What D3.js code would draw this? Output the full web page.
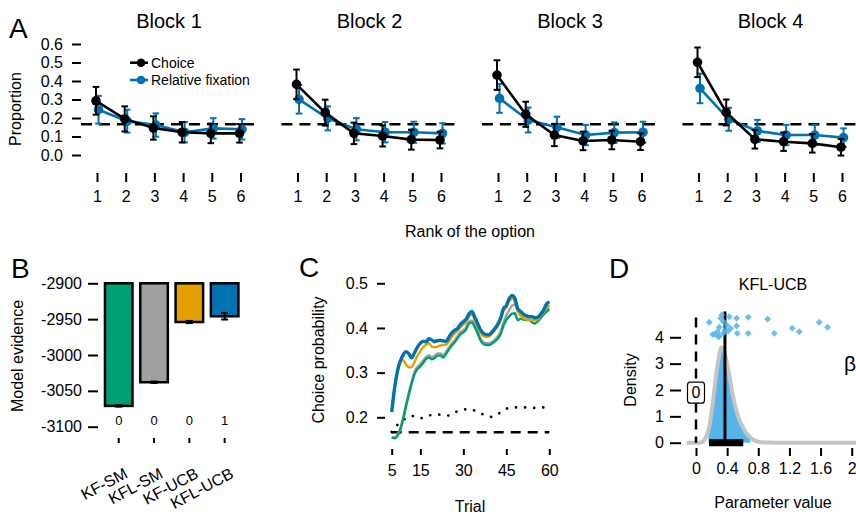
<!DOCTYPE html>
<html><head><meta charset="utf-8">
<script src="https://cdn.jsdelivr.net/npm/d3@7"></script>
<style>
body{margin:0;background:#fff}
svg text{font-family:"Liberation Sans",Arial,Helvetica,sans-serif;fill:#000}
</style></head><body>
<svg id="chart" width="856" height="515"></svg>
<script>
// ---------------- Panel A data ----------------
const ranks = [1,2,3,4,5,6];
const blockNames = ["Block 1","Block 2","Block 3","Block 4"];
const choiceMean = [
 [0.293,0.195,0.146,0.123,0.117,0.117],
 [0.382,0.229,0.117,0.103,0.083,0.081],
 [0.432,0.220,0.108,0.076,0.081,0.072],
 [0.501,0.230,0.085,0.072,0.063,0.042]];
const choiceErr = [
 [0.075,0.068,0.063,0.055,0.053,0.050],
 [0.080,0.070,0.058,0.057,0.054,0.045],
 [0.080,0.068,0.060,0.050,0.050,0.045],
 [0.080,0.070,0.050,0.050,0.050,0.045]];
const fixMean = [
 [0.245,0.183,0.162,0.123,0.144,0.139],
 [0.301,0.198,0.139,0.123,0.123,0.117],
 [0.306,0.189,0.150,0.108,0.121,0.123],
 [0.360,0.193,0.130,0.108,0.108,0.094]];
const fixErr = [
 [0.075,0.062,0.063,0.055,0.055,0.055],
 [0.077,0.065,0.060,0.055,0.057,0.055],
 [0.078,0.067,0.057,0.055,0.055,0.057],
 [0.080,0.062,0.060,0.055,0.055,0.050]];
const chanceLevel = 1/6;
const yTicksA = [0,0.1,0.2,0.3,0.4,0.5,0.6];
const legendA = ["Choice","Relative fixation"];

// ---------------- Panel B data ----------------
const models = ["KF-SM","KFL-SM","KF-UCB","KFL-UCB"];
const evidence = [-3071,-3038,-2954,-2946];
const evidenceErr = [1,1,1.5,4.5];
const bestFitCounts = ["0","0","0","1"];
const modelColors = ["#009E73","#A0A0A0","#E69F00","#0072B2"];
const yTicksB = [-3100,-3050,-3000,-2950,-2900];

// ---------------- Panel C data ----------------
const trials = [5,6,7,8,9,10,11,12,13,14,15,16,17,18,19,20,21,22,23,24,25,26,27,28,29,30,31,32,
 33,34,35,36,37,38,39,40,41,42,43,44,45,46,47,48,49,50,51,52,53,54,55,56,57,58,59,60];
const probKFSM = [0.155,0.153,0.158,0.172,0.195,0.224,0.251,0.276,0.297,0.308,0.314,0.322,0.330,0.334,
 0.330,0.333,0.338,0.338,0.334,0.342,0.352,0.361,0.368,0.377,0.386,0.390,0.397,0.410,0.412,0.402,0.388,
 0.372,0.364,0.362,0.362,0.365,0.370,0.376,0.386,0.405,0.418,0.426,0.432,0.433,0.417,0.421,0.419,0.418,
 0.418,0.413,0.410,0.415,0.422,0.430,0.436,0.442];
const probKFLSM = [0.155,0.155,0.161,0.176,0.200,0.229,0.256,0.281,0.302,0.313,0.319,0.327,0.335,0.339,
 0.335,0.338,0.343,0.343,0.339,0.347,0.357,0.366,0.373,0.382,0.391,0.395,0.402,0.414,0.417,0.407,0.393,
 0.377,0.368,0.366,0.366,0.369,0.374,0.381,0.392,0.412,0.428,0.440,0.450,0.452,0.440,0.430,0.426,0.426,
 0.426,0.427,0.421,0.421,0.428,0.436,0.442,0.448];
const probKFUCB = [0.212,0.265,0.303,0.326,0.328,0.318,0.312,0.313,0.324,0.338,0.348,0.357,0.362,0.366,
 0.358,0.357,0.358,0.361,0.362,0.363,0.370,0.380,0.388,0.394,0.402,0.408,0.413,0.425,0.430,0.418,0.403,
 0.390,0.382,0.380,0.381,0.387,0.395,0.404,0.418,0.438,0.446,0.460,0.467,0.458,0.437,0.428,0.421,0.419,
 0.418,0.418,0.417,0.419,0.427,0.435,0.446,0.452];
const probKFLUCB = [0.212,0.265,0.303,0.326,0.340,0.347,0.342,0.333,0.345,0.357,0.366,0.370,0.369,0.376,
 0.373,0.369,0.372,0.372,0.371,0.370,0.380,0.389,0.395,0.399,0.408,0.414,0.420,0.432,0.437,0.424,0.410,
 0.396,0.388,0.385,0.385,0.391,0.399,0.408,0.422,0.443,0.450,0.465,0.473,0.466,0.443,0.437,0.431,0.427,
 0.425,0.425,0.423,0.424,0.431,0.440,0.453,0.459];
const probRandom = [0.167,0.176,0.183,0.189,0.194,0.198,0.201,0.203,0.202,0.200,0.198,0.199,0.201,0.204,
 0.205,0.206,0.206,0.206,0.205,0.204,0.204,0.206,0.210,0.214,0.216,0.217,0.218,0.218,0.216,0.215,0.212,
 0.209,0.206,0.204,0.202,0.201,0.203,0.207,0.211,0.215,0.219,0.221,0.222,0.222,0.222,0.222,0.222,0.222,
 0.221,0.221,0.221,0.221,0.222,0.222,0.222,0.222];
const xTicksC = [5,15,30,45,60];
const yTicksC = [0.2,0.3,0.4,0.5];

// ---------------- Panel D data ----------------
const densX = [-0.12,0.0,0.05,0.10,0.13,0.16,0.20,0.24,0.28,0.31,0.33,0.35,0.38,0.41,0.44,0.48,0.52,
 0.56,0.60,0.65,0.70,0.76,0.84,0.95,1.2,2.3];
const densY = [0,0,0,0.08,0.22,0.45,1.15,2.1,3.0,3.5,3.62,3.55,3.25,2.85,2.35,1.7,1.2,0.85,0.6,0.35,
 0.2,0.08,0.02,0.005,0,0];
const fillRange = [0.155,0.72];
const hdi = [0.167,0.607];
const postMean = 0.372;
const indivX = [0.171,0.244,0.274,0.300,0.317,0.351,0.372,0.394,0.428,0.445,0.522,0.522,0.530,0.671,
 0.671,0.920,1.005,1.236,1.326,1.583,1.690,0.287,0.415,0.330,0.214,0.351,0.300];
const indivY = [4.57,4.11,4.21,4.38,4.72,4.15,4.28,4.47,4.78,4.34,4.72,4.43,4.15,4.76,4.15,4.69,4.15,
 4.34,4.21,4.57,4.38,4.02,4.24,4.85,4.11,4.60,4.05];
const xTicksD = [0,0.4,0.8,1.2,1.6,2];
const yTicksD = [0,1,2,3,4];

// ---------------- drawing ----------------
const svg = d3.select("#chart");
const FS = 16;
function styleAxis(g, sw){
  g.select(".domain").remove();
  g.selectAll(".tick line").attr("stroke","#000").attr("stroke-width",sw||2);
  g.selectAll(".tick text").attr("font-size",FS).attr("fill","#000")
    .style("font-family",'"Liberation Sans",Arial,sans-serif');
}
function panelLetter(t,x,y){
  svg.append("text").attr("x",x).attr("y",y).attr("font-size",28).text(t);
}

// ===== Panel A =====
panelLetter("A",9,38);
const yA = d3.scaleLinear().domain([0,0.6]).range([155,44]);
const blockStep = 200.5, x0A = 97, spanA = 143.5;
svg.append("g").attr("transform","translate(81,0)")
  .call(d3.axisLeft(yA).tickValues(yTicksA).tickFormat(d3.format(".1f")).tickSize(9).tickPadding(9))
  .call(styleAxis);
svg.append("text").attr("transform","translate(21,109) rotate(-90)")
  .attr("text-anchor","middle").attr("font-size",FS).text("Proportion");
svg.append("text").attr("x",470).attr("y",237).attr("text-anchor","middle")
  .attr("font-size",FS).text("Rank of the option");

const blue = "#0072B2";
blockNames.forEach((name,b)=>{
  const left = x0A + b*blockStep;
  const xA = d3.scaleLinear().domain([1,6]).range([left,left+spanA]);
  svg.append("text").attr("x",left+72).attr("y",28).attr("text-anchor","middle")
    .attr("font-size",20).text(name);
  svg.append("g").attr("transform","translate(0,173)")
    .call(d3.axisBottom(xA).tickValues(ranks).tickFormat(d3.format("d")).tickSize(9).tickPadding(9))
    .call(styleAxis);
  svg.append("line").attr("x1",xA(0.44)).attr("x2",xA(6.6))
    .attr("y1",yA(chanceLevel)).attr("y2",yA(chanceLevel))
    .attr("stroke","#000").attr("stroke-width",2.5).attr("stroke-dasharray","11,7");
  const series = [
    {m:fixMean[b], e:fixErr[b], c:blue, dx:1.5},
    {m:choiceMean[b], e:choiceErr[b], c:"#000", dx:-1}
  ];
  series.forEach(s=>{
    const g = svg.append("g");
    const pts = ranks.map((r,i)=>({x:xA(r)+s.dx, v:s.m[i], e:s.e[i]}));
    pts.forEach(p=>{
      g.append("line").attr("x1",p.x).attr("x2",p.x).attr("y1",yA(p.v-p.e)).attr("y2",yA(p.v+p.e))
        .attr("stroke",s.c).attr("stroke-width",2);
      [p.v-p.e,p.v+p.e].forEach(v=>g.append("line").attr("x1",p.x-3.3).attr("x2",p.x+3.3)
        .attr("y1",yA(v)).attr("y2",yA(v)).attr("stroke",s.c).attr("stroke-width",2));
    });
    g.append("path").datum(pts)
      .attr("d",d3.line().x(p=>p.x).y(p=>yA(p.v)))
      .attr("fill","none").attr("stroke",s.c).attr("stroke-width",2.6);
    g.selectAll("circle").data(pts).join("circle")
      .attr("cx",p=>p.x).attr("cy",p=>yA(p.v)).attr("r",4.8).attr("fill",s.c);
  });
});
// legend
[{t:legendA[0],c:"#000",y:62.7},{t:legendA[1],c:blue,y:80}].forEach(l=>{
  svg.append("line").attr("x1",130).attr("x2",148).attr("y1",l.y).attr("y2",l.y)
    .attr("stroke",l.c).attr("stroke-width",2.6);
  svg.append("circle").attr("cx",141).attr("cy",l.y).attr("r",4.3).attr("fill",l.c);
  svg.append("text").attr("x",151).attr("y",l.y+5).attr("font-size",14).text(l.t);
});

// ===== Panel B =====
panelLetter("B",11,278);
const yB = d3.scaleLinear().domain([-3100,-2900]).range([426.7,283.3]);
const xB = d3.scaleBand().domain(models).range([101.1,242.3]).paddingInner(0.22).paddingOuter(0.11);
svg.append("g").attr("transform","translate(98,0)")
  .call(d3.axisLeft(yB).tickValues(yTicksB).tickFormat(d=>String(d)).tickSize(10).tickPadding(6))
  .call(styleAxis);
svg.selectAll(".barB").data(models).join("rect").attr("class","barB")
  .attr("x",d=>xB(d)).attr("width",xB.bandwidth())
  .attr("y",yB(-2900)).attr("height",(d,i)=>yB(evidence[i])-yB(-2900))
  .attr("fill",(d,i)=>modelColors[i]).attr("stroke","#000").attr("stroke-width",2.5);
models.forEach((m,i)=>{
  const cx = xB(m)+xB.bandwidth()/2;
  const lo = yB(evidence[i]-evidenceErr[i]), hi = yB(evidence[i]+evidenceErr[i]);
  svg.append("line").attr("x1",cx).attr("x2",cx).attr("y1",lo).attr("y2",hi).attr("stroke","#000").attr("stroke-width",2);
  [lo,hi].forEach(y=>svg.append("line").attr("x1",cx-3.5).attr("x2",cx+3.5).attr("y1",y).attr("y2",y)
    .attr("stroke","#000").attr("stroke-width",2));
  svg.append("text").attr("x",cx).attr("y",425).attr("text-anchor","middle").attr("font-size",13)
    .text(bestFitCounts[i]);
  svg.append("text").attr("transform",`translate(${cx+10},477) rotate(-28)`)
    .attr("text-anchor","end").attr("font-size",FS).text(m);
});
svg.append("g").attr("transform","translate(0,438)")
  .call(d3.axisBottom(xB).tickSize(5).tickFormat(""))
  .call(styleAxis);
svg.append("text").attr("transform","translate(23,356) rotate(-90)")
  .attr("text-anchor","middle").attr("font-size",FS).text("Model evidence");

// ===== Panel C =====
panelLetter("C",299,277);
const xC = d3.scaleLinear().domain([5,60]).range([391.7,549.3]);
const yC = d3.scaleLinear().domain([0.2,0.5]).range([417.3,283.3]);
svg.append("g").attr("transform","translate(385,0)")
  .call(d3.axisLeft(yC).tickValues(yTicksC).tickFormat(d3.format(".1f")).tickSize(8).tickPadding(9))
  .call(styleAxis);
svg.append("g").attr("transform","translate(0,449)")
  .call(d3.axisBottom(xC).tickValues(xTicksC).tickFormat(d3.format("d")).tickSize(6).tickPadding(10))
  .call(styleAxis);
svg.append("text").attr("x",470).attr("y",512).attr("text-anchor","middle").attr("font-size",FS).text("Trial");
svg.append("text").attr("transform","translate(324,360) rotate(-90)")
  .attr("text-anchor","middle").attr("font-size",FS).text("Choice probability");
svg.append("line").attr("x1",xC(5)).attr("x2",xC(60)).attr("y1",yC(chanceLevel)).attr("y2",yC(chanceLevel))
  .attr("stroke","#000").attr("stroke-width",2.5).attr("stroke-dasharray","10,7");
const lineC = d3.line().x((d,i)=>xC(trials[i])).y(d=>yC(d)).curve(d3.curveMonotoneX);
svg.append("path").datum(probRandom).attr("d",lineC).attr("fill","none")
  .attr("stroke","#000").attr("stroke-width",2.7).attr("stroke-linecap","round").attr("stroke-dasharray","0.1,9");
[{d:probKFLSM,c:modelColors[1],w:2.4},{d:probKFSM,c:modelColors[0],w:2.4},
 {d:probKFUCB,c:modelColors[2],w:2.4},{d:probKFLUCB,c:modelColors[3],w:3.4}].forEach(s=>{
  svg.append("path").datum(s.d).attr("d",lineC).attr("fill","none")
    .attr("stroke",s.c).attr("stroke-width",s.w).attr("stroke-linejoin","round");
});

// ===== Panel D =====
panelLetter("D",609,278);
const xD = d3.scaleLinear().domain([0,2]).range([696,851.7]);
const yD = d3.scaleLinear().domain([0,4]).range([442.7,337.3]);
svg.append("g").attr("transform","translate(681,0)")
  .call(d3.axisLeft(yD).tickValues(yTicksD).tickFormat(d3.format("d")).tickSize(11).tickPadding(6))
  .call(styleAxis);
svg.append("g").attr("transform","translate(0,448)")
  .call(d3.axisBottom(xD).tickValues(xTicksD).tickFormat(d3.format("~g")).tickSize(8).tickPadding(7))
  .call(styleAxis);
svg.append("text").attr("x",773).attr("y",290).attr("text-anchor","middle").attr("font-size",16).text("KFL-UCB");
svg.append("text").attr("x",773).attr("y",508).attr("text-anchor","middle").attr("font-size",FS).text("Parameter value");
svg.append("text").attr("transform","translate(636,380) rotate(-90)")
  .attr("text-anchor","middle").attr("font-size",FS).text("Density");
const densPts = densX.map((x,i)=>({x, y:densY[i]}));
const gD = svg.append("g");
gD.append("clipPath").attr("id","clipD").append("rect").attr("x",600).attr("y",250).attr("width",256).attr("height",265);
const gClip = gD.append("g").attr("clip-path","url(#clipD)");
const fillPts = densPts.filter(p=>p.x>=fillRange[0] && p.x<=fillRange[1]);
gClip.append("path").datum(fillPts)
  .attr("d",d3.area().x(p=>xD(p.x)).y0(yD(0)).y1(p=>yD(p.y)).curve(d3.curveMonotoneX))
  .attr("fill","#56B4E9");
gClip.append("path").datum(densPts)
  .attr("d",d3.line().x(p=>xD(p.x)).y(p=>yD(p.y)).curve(d3.curveMonotoneX))
  .attr("fill","none").attr("stroke","#C4C4C4").attr("stroke-width",4);
svg.append("line").attr("x1",xD(0)).attr("x2",xD(0)).attr("y1",yD(4.75)).attr("y2",yD(0))
  .attr("stroke","#000").attr("stroke-width",2.5).attr("stroke-dasharray","10,7");
svg.append("line").attr("x1",xD(hdi[0])).attr("x2",xD(hdi[1])).attr("y1",yD(0)).attr("y2",yD(0))
  .attr("stroke","#000").attr("stroke-width",7);
svg.append("line").attr("x1",xD(postMean)).attr("x2",xD(postMean)).attr("y1",yD(4.98)).attr("y2",yD(0))
  .attr("stroke","#000").attr("stroke-width",3);
svg.append("g").selectAll("path").data(indivX).join("path")
  .attr("d",d3.symbol(d3.symbolSquare,24)())
  .attr("transform",(d,i)=>`translate(${xD(d)},${yD(indivY[i])}) rotate(45)`)
  .attr("fill","#56B4E9").attr("fill-opacity",0.85);
svg.append("rect").attr("x",xD(0)-8.5).attr("y",yD(1.9)-10.5).attr("width",17).attr("height",21)
  .attr("rx",3).attr("fill","#fff").attr("stroke","#000").attr("stroke-width",1.2);
svg.append("text").attr("x",xD(0)).attr("y",yD(1.9)+5.5).attr("text-anchor","middle").attr("font-size",FS).text("0");
svg.append("text").attr("x",844).attr("y",371).attr("font-size",21).text("β");
</script>
</body></html>
